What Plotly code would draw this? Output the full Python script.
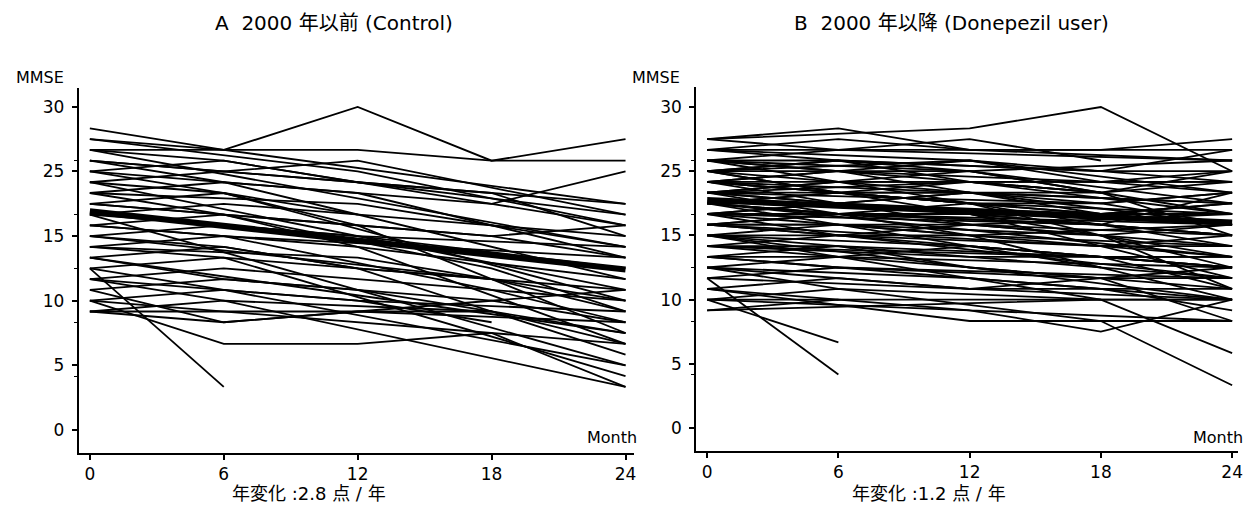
import plotly.graph_objects as go

months = [0, 6, 12, 18, 24]
x_ticks = [0, 6, 12, 18, 24]
y_tickvals = [0, 6, 12, 18, 24, 30]
y_ticktext = ["0", "5", "10", "15", "25", "30"]
y_minor = [5, 10, 15, 20, 25]

# MMSE per patient at months 0, 6, 12, 18, 24 (None = no visit)
A_patients = [
    [28, 26, 30, 25, 27],
    [27, 26, None, None, 21],
    [27, None, 24, None, 19],
    [26, 26, 26, 25, 25],
    [26, 25, None, 21, 24],
    [26, None, None, None, 17],
    [25, 24, 25, None, 20],
    [25, None, None, 22, 18],
    [25, 23, None, None, 14],
    [24, 25, 23, 22, 21],
    [24, None, 22, None, 16],
    [24, 22, None, None, 12],
    [23, 24, 23, None, 20],
    [23, None, None, None, 13],
    [23, 22, 19, None, 9],
    [22, 23, None, 21, 19],
    [22, None, 21, None, 17],
    [22, 20, None, 15, 11],
    [21, 22, 20, None, None],
    [21, None, None, 18, 16],
    [21, 20, 17, None, 8],
    [20, 21, None, None, 18],
    [20, 19, 18, None, 15],
    [20, None, None, None, 6],
    [19, 20, None, 18, 19],
    [19, None, 17, None, 14],
    [19, 18, None, 13, 10],
    [18, 19, 18, None, 17],
    [18, None, None, 14, 12],
    [18, 17, 15, None, 7],
    [17, 18, None, None, 16],
    [17, None, 16, 14, None],
    [17, 16, None, None, 5],
    [16, 17, 15, None, 13],
    [16, None, None, None, 9],
    [16, 14, 13, 11, 8],
    [15, 4, None, None, None],
    [15, 16, None, 14, 11],
    [15, 13, None, None, 6],
    [14, 15, 14, None, 12],
    [14, None, 12, 10, None],
    [14, 12, None, None, 4],
    [12, 8, 8, 9, 4],
    [13, 10, 11, None, 10],
    [13, 14, None, 12, 10],
    [12, 13, 12, None, 11],
    [12, None, 10, 9, 8],
    [11, 12, None, 11, 9],
    [11, 10, 11, None, 13],
    [11, 11, 11, 11, None],
]
A_mean = [20.3, 14.9]

B_patients = [
    [27, 28, 26, None, 25],
    [27, None, 28, 30, 24],
    [27, 26, None, 26, 27],
    [26, 27, 26, None, 26],
    [26, None, 25, None, 22],
    [26, 25, None, 24, 26],
    [26, 26, 27, 25, None],
    [25, 26, None, None, 25],
    [25, 24, 25, 23, 23],
    [25, None, 24, None, 20],
    [25, 25, None, 24, 24],
    [25, 23, 24, None, 21],
    [25, None, None, 22, 18],
    [24, 25, 24, None, 25],
    [24, 23, None, 23, 22],
    [24, None, 25, 24, 23],
    [24, 24, 22, None, 19],
    [24, None, None, None, 16],
    [24, 25, 23, 22, None],
    [24, 22, None, 20, 21],
    [23, 24, None, 23, 24],
    [23, 22, 23, None, 20],
    [23, None, 22, 21, 22],
    [23, 23, None, None, 17],
    [23, 24, 24, 22, 23],
    [23, None, 21, None, 15],
    [23, 22, None, 22, 24],
    [23, 21, 22, None, None],
    [22, 23, 22, None, 21],
    [22, None, None, 21, 19],
    [22, 21, 22, 20, 20],
    [22, 23, None, None, 23],
    [22, None, 20, None, 14],
    [22, 22, 21, 21, 22],
    [22, 20, None, 19, 18],
    [22, None, 23, 22, None],
    [21, 22, None, 20, 19],
    [21, 20, 21, None, 20],
    [21, None, None, None, 16],
    [21, 21, 20, 19, 18],
    [21, 22, 22, None, 21],
    [21, None, 19, 18, 13],
    [21, 20, None, None, 19],
    [21, 19, 18, None, 12],
    [20, 21, None, 20, 21],
    [20, None, 20, None, 18],
    [20, 19, None, 17, 17],
    [20, 21, 19, None, 20],
    [20, None, None, 19, 22],
    [20, 18, 17, None, 15],
    [20, 20, None, 19, None],
    [19, 20, None, None, 20],
    [19, None, 19, 18, 17],
    [19, 18, None, None, 14],
    [19, 20, 18, None, 19],
    [19, None, None, 17, 16],
    [19, 19, 17, 16, 13],
    [19, 18, 19, None, 18],
    [18, 19, None, 18, 19],
    [18, None, 17, None, 15],
    [18, 17, None, 16, 16],
    [18, 18, 18, None, 17],
    [18, None, None, None, 12],
    [18, 16, 17, 15, None],
    [17, 18, None, 17, 18],
    [17, None, 16, None, 14],
    [17, 16, None, None, 13],
    [17, 17, 15, 14, 10],
    [17, None, None, 16, 15],
    [16, 17, 16, None, 16],
    [16, None, 14, 13, 11],
    [16, 15, None, None, 14],
    [16, 16, None, 12, 7],
    [15, 16, None, None, 15],
    [15, None, 14, None, 12],
    [15, 14, 13, 13, 13],
    [15, 13, None, 10, 4],
    [14, 15, None, 14, 14],
    [14, None, 13, None, 12],
    [14, 5, None, None, None],
    [13, 14, 13, None, 15],
    [13, None, 10, 10, 10],
    [13, 12, None, None, 12],
    [12, 13, None, 12, None],
    [12, 8, None, None, None],
    [12, None, 11, 9, 12],
    [11, 12, 11, None, 10],
    [11, None, None, 12, 12],
    [12, 12, None, None, None],
]
B_mean = [21.3, 19.2]

FONT = "DejaVu Sans, Noto Sans CJK JP, sans-serif"
W, H = 1250, 516


def build(patients):
    xs, ys = [], []
    for p in patients:
        for m, v in zip(months, p):
            if v is not None:
                xs.append(m)
                ys.append(v)
        xs.append(None)
        ys.append(None)
    return xs, ys


fig = go.Figure()
for patients, mean, xa, ya in [(A_patients, A_mean, "x", "y"), (B_patients, B_mean, "x2", "y2")]:
    xs, ys = build(patients)
    fig.add_trace(go.Scatter(x=xs, y=ys, mode="lines", xaxis=xa, yaxis=ya,
                             line=dict(color="black", width=1.8), hoverinfo="skip",
                             showlegend=False))
    fig.add_trace(go.Scatter(x=[months[0], months[-1]], y=mean, mode="lines", xaxis=xa, yaxis=ya,
                             line=dict(color="black", width=6), hoverinfo="skip",
                             showlegend=False))


def xaxis_cfg(domain, rng):
    return dict(domain=domain, range=rng, tickvals=x_ticks, ticks="outside", ticklen=5,
                tickwidth=1.5, tickcolor="black", showline=True, linecolor="black", linewidth=2,
                showgrid=False, zeroline=False, tickfont=dict(size=17, color="black", family=FONT),
                fixedrange=True)


def yaxis_cfg(domain, rng, anchor):
    return dict(domain=domain, range=rng, tickvals=y_tickvals, ticktext=y_ticktext,
                ticks="outside", ticklen=5, tickwidth=1.5, tickcolor="black",
                minor=dict(tickvals=y_minor, ticks="outside", ticklen=3, tickcolor="black", tickwidth=1),
                showline=True, linecolor="black", linewidth=2, showgrid=False, zeroline=False,
                tickfont=dict(size=17, color="black", family=FONT), ticklabelstandoff=4,
                anchor=anchor, fixedrange=True)


fig.update_layout(
    width=W, height=H, margin=dict(l=0, r=0, t=0, b=0),
    paper_bgcolor="white", plot_bgcolor="white",
    xaxis=dict(**xaxis_cfg([79 / W, 637 / W], [-0.5, 24.4]), anchor="y"),
    yaxis=yaxis_cfg([1 - 453 / H, 1 - 88 / H], [-2.14, 31.75], "x"),
    xaxis2=dict(**xaxis_cfg([699 / W, 1243 / W], [-0.5, 24.27]), anchor="y2"),
    yaxis2=yaxis_cfg([1 - 451 / H, 1 - 87 / H], [-2.15, 31.87], "x2"),
)

texts = [
    ("A  2000 年以前 (Control)", 335, 23, 20),
    ("B  2000 年以降 (Donepezil user)", 955, 23, 20),
    ("MMSE", 40, 77, 16),
    ("MMSE", 659, 77, 16),
    ("Month", 614, 437, 16),
    ("Month", 1223, 437, 16),
    ("年変化 :2.8 点 / 年", 310, 493, 18),
    ("年変化 :1.2 点 / 年", 933, 493, 18),
]
for t, px, py, sz in texts:
    fig.add_annotation(text=t, x=px / W, y=1 - py / H, xref="paper", yref="paper",
                       showarrow=False, xanchor="center", yanchor="middle",
                       font=dict(size=sz, color="black", family=FONT))

fig.write_html("out.html", config={"displayModeBar": False},
               post_script="document.body.style.margin='0px';document.body.style.overflow='hidden';")
